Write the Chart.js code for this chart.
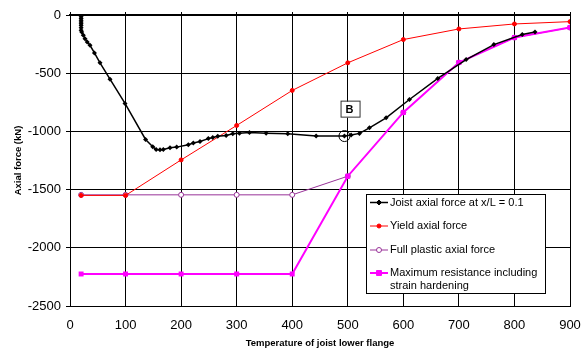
<!DOCTYPE html>
<html>
<head>
<title>Joist axial force</title>
<script src="https://cdn.jsdelivr.net/npm/chart.js"></script>
<style>
  body { margin: 0; background: #fff; }
</style>
</head>
<body>
<canvas id="forceChart" width="587" height="350"></canvas>
<script>
// joist axial force at x/L = 0.1 (many points)
const joistTemp = [20, 20, 20, 20, 20, 20, 20, 20, 20, 21, 24, 27, 31, 36, 44, 54, 72, 99,
  136, 149, 155, 162, 168, 180, 192, 213, 222, 234, 249, 257, 266, 281, 293, 305, 323, 353, 392,
  443, 494, 506, 521, 539, 569, 611, 662, 713, 763, 814, 837];
const joistForce = [0, -15, -30, -45, -60, -75, -90, -110, -130, -146, -174, -203, -231, -260, -326, -411, -551, -760,
  -1069, -1132, -1155, -1158, -1155, -1140, -1135, -1115, -1100, -1087, -1062, -1053, -1042, -1035, -1021, -1016, -1010, -1016, -1021,
  -1040, -1040, -1030, -1017, -969, -883, -726, -545, -383, -254, -168, -146];

// other series share these temperatures
const stdTemp = [20, 100, 200, 300, 400, 500, 600, 700, 800, 900];
const yieldForce = [-1550, -1550, -1245, -949, -648, -411, -211, -120, -77, -57];
const plasticForce = [-1545, -1545, -1545, -1545, -1545, -1385, -837, -408, -194, -108];
const maxResForce = [-2225, -2225, -2225, -2225, -2225, -1385, -837, -408, -194, -108];

const seriesNames = ['Joist axial force at x/L = 0.1', 'Yield axial force', 'Full plastic axial force',
  ['Maximum resistance including', 'strain hardening']];

// point B marker and label position (data units)
const pointB = { x: 494, y: -1040 };
const labelB = { x: 505, y: -813, text: 'B' };

const xTicks = [0, 100, 200, 300, 400, 500, 600, 700, 800, 900];
const yTicks = [0, -500, -1000, -1500, -2000, -2500];

function pairs(xs, ys) {
  return xs.map((x, i) => ({ x: x, y: ys[i] }));
}

const FONT = "'Liberation Sans', Arial, sans-serif";

const extras = {
  id: 'extras',
  afterDraw(chart) {
    const ctx = chart.ctx;
    const xs = chart.scales.x, ys = chart.scales.y;
    const area = chart.chartArea;
    ctx.save();

    // circle at B
    ctx.strokeStyle = '#000';
    ctx.lineWidth = 1;
    ctx.beginPath();
    ctx.arc(xs.getPixelForValue(pointB.x), ys.getPixelForValue(pointB.y), 5.5, 0, Math.PI * 2);
    ctx.stroke();

    // label box
    const bx = xs.getPixelForValue(labelB.x), by = ys.getPixelForValue(labelB.y);
    ctx.fillStyle = '#fff';
    ctx.fillRect(bx - 9, by - 8, 18, 16);
    ctx.strokeStyle = '#333';
    ctx.strokeRect(bx - 9.5, by - 8.5, 19, 16);
    ctx.fillStyle = '#000';
    ctx.font = 'bold 11px ' + FONT;
    ctx.textAlign = 'center';
    ctx.textBaseline = 'middle';
    ctx.fillText(labelB.text, bx - 1, by);

    // legend inside plot
    const lx = area.left + 296, ly = area.top + 179;
    const lw = 179, lh = 99;
    ctx.fillStyle = '#fff';
    ctx.fillRect(lx, ly, lw, lh);
    ctx.strokeStyle = '#000';
    ctx.lineWidth = 1;
    ctx.strokeRect(lx + 0.5, ly + 0.5, lw, lh);
    const rows = [8.5, 32, 56, 79];
    ctx.font = '11px ' + FONT;
    ctx.textAlign = 'left';
    chart.data.datasets.forEach((ds, i) => {
      const cy = ly + rows[i];
      ctx.strokeStyle = ds.borderColor;
      ctx.lineWidth = ds.borderWidth;
      ctx.beginPath();
      ctx.moveTo(lx + 4, cy);
      ctx.lineTo(lx + 22, cy);
      ctx.stroke();
      ctx.fillStyle = ds.pointBackgroundColor;
      ctx.strokeStyle = ds.borderColor;
      ctx.lineWidth = 1;
      Chart.helpers.drawPoint(ctx, { pointStyle: ds.pointStyle, radius: ds.pointRadius, borderWidth: 1 }, lx + 13, cy);
      ctx.fillStyle = '#000';
      ctx.textBaseline = 'middle';
      const name = seriesNames[i];
      if (Array.isArray(name)) {
        ctx.fillText(name[0], lx + 24, cy);
        ctx.fillText(name[1], lx + 24, cy + 13);
      } else {
        ctx.fillText(name, lx + 24, cy);
      }
    });
    ctx.restore();
  }
};

new Chart(document.getElementById('forceChart').getContext('2d'), {
  type: 'line',
  data: {
    datasets: [
      {
        label: seriesNames[0],
        data: pairs(joistTemp, joistForce),
        borderColor: '#000000',
        pointBackgroundColor: '#000000',
        borderWidth: 1.5,
        pointStyle: 'rectRot',
        pointRadius: 2.5,
        pointBorderWidth: 0,
        tension: 0,
        order: 0
      },
      {
        label: seriesNames[1],
        data: pairs(stdTemp, yieldForce),
        borderColor: '#ff0000',
        pointBackgroundColor: '#ff0000',
        borderWidth: 1,
        pointStyle: 'circle',
        pointRadius: 2,
        pointBorderWidth: 1,
        tension: 0,
        order: 1
      },
      {
        label: seriesNames[2],
        data: pairs(stdTemp, plasticForce),
        borderColor: '#993399',
        pointBackgroundColor: '#ffffff',
        borderWidth: 1,
        pointStyle: 'circle',
        pointRadius: 2.5,
        pointBorderWidth: 1,
        tension: 0,
        order: 3
      },
      {
        label: seriesNames[3].join(' '),
        data: pairs(stdTemp, maxResForce),
        borderColor: '#ff00ff',
        pointBackgroundColor: '#ff00ff',
        borderWidth: 2,
        pointStyle: 'rect',
        pointRadius: 3.5,
        pointBorderWidth: 0,
        tension: 0,
        order: 2
      }
    ]
  },
  options: {
    responsive: false,
    animation: false,
    layout: { padding: { top: 12, right: 17, left: 0, bottom: 0 } },
    plugins: { legend: { display: false }, tooltip: { enabled: false } },
    scales: {
      x: {
        type: 'linear',
        position: 'bottom',
        min: 0, max: 900,
        afterBuildTicks: s => { s.ticks = xTicks.map(v => ({ value: v })); },
        afterFit: s => { s.height = 44; },
        grid: { color: '#000', lineWidth: 1, drawTicks: true, tickLength: 9, tickColor: 'rgba(0,0,0,0)' },
        border: { color: '#000', width: 1 },
        ticks: { color: '#000', padding: 3, font: { family: FONT, size: 13 }, callback: v => String(v) },
        title: {
          display: true,
          text: 'Temperature of joist lower flange',
          color: '#000',
          font: { family: FONT, size: 9.5, weight: 'bold' },
          padding: { top: 0, bottom: 1 }
        }
      },
      xTop: {
        type: 'linear',
        position: 'top',
        min: 0, max: 900,
        afterBuildTicks: s => { s.ticks = xTicks.map(v => ({ value: v })); },
        afterFit: s => { s.height = 3; },
        grid: { color: '#000', drawOnChartArea: false, tickLength: 3 },
        border: { color: '#000', width: 2 },
        ticks: { display: false }
      },
      y: {
        min: -2500, max: 0,
        afterBuildTicks: s => { s.ticks = yTicks.map(v => ({ value: v })); },
        afterFit: s => { s.width = 70; },
        grid: { color: '#000', lineWidth: 1, tickLength: 4 },
        border: { color: '#000', width: 1 },
        ticks: { color: '#000', padding: 5, font: { family: FONT, size: 13 }, callback: v => String(v) },
        title: {
          display: true,
          text: 'Axial force (kN)',
          color: '#000',
          font: { family: FONT, size: 9.5, weight: 'bold' },
          padding: { top: 13, bottom: 0 }
        }
      }
    }
  },
  plugins: [extras]
});
</script>
</body>
</html>
